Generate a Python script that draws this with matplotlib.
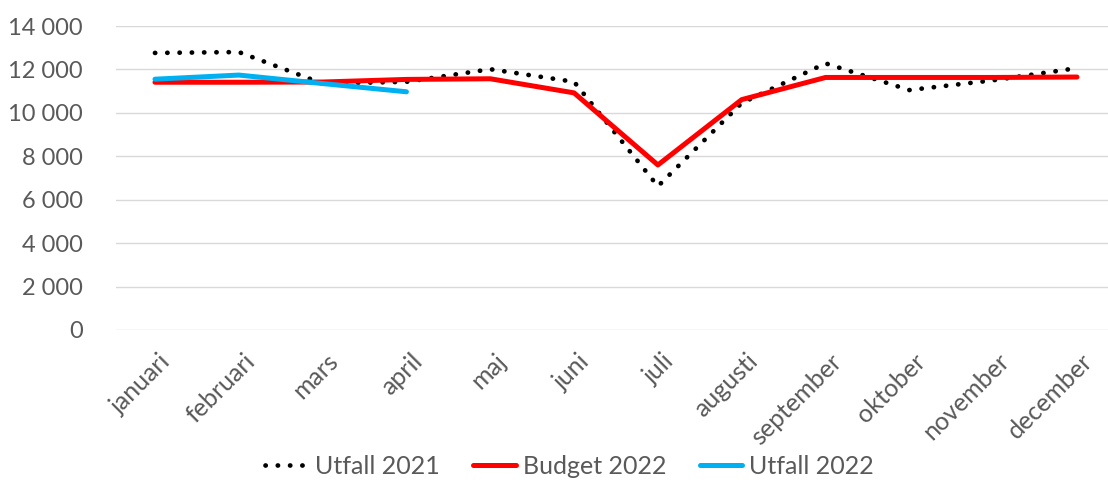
import matplotlib.pyplot as plt
from matplotlib.ticker import FuncFormatter
from matplotlib.transforms import ScaledTranslation

plt.rcParams['font.family'] = ['Lato', 'DejaVu Sans']

months = ["januari", "februari", "mars", "april", "maj", "juni", "juli",
          "augusti", "september", "oktober", "november", "december"]
utfall_2021 = [12760, 12800, 11350, 11430, 12010, 11430, 6620, 10450, 12280, 11050, 11500, 12060]
budget_2022 = [11410, 11410, 11420, 11540, 11570, 10920, 7600, 10610, 11630, 11630, 11630, 11650]
utfall_2022 = [11550, 11740, 11350, 10970]

grey = "#595959"

fig = plt.figure(figsize=(11.08, 4.86), dpi=100)
ax = fig.add_axes([0.1047, 0.321, 0.8953, 0.6255])

x = list(range(len(months)))
ax.plot(x, utfall_2021, color="black", lw=3.4, linestyle=(0, (0.05, 2.55)),
        dash_capstyle="round", label="Utfall 2021", zorder=3)
ax.plot(x, budget_2022, color="#FF0000", lw=3.6, solid_capstyle="round",
        label="Budget 2022", zorder=4)
ax.plot(x[:len(utfall_2022)], utfall_2022, color="#00B0F0", lw=3.6,
        solid_capstyle="round", label="Utfall 2022", zorder=5)

ax.set_ylim(0, 14000)
ax.set_xlim(-0.465, 11.37)
ax.set_yticks(range(0, 14001, 2000))
ax.yaxis.set_major_formatter(FuncFormatter(lambda v, p: f"{int(v):,}".replace(",", " ")))
ax.set_xticks(x)
ax.set_xticklabels(months, rotation=45, ha="right", va="top", rotation_mode="anchor")
ax.tick_params(axis="y", length=0, labelsize=17, colors=grey, pad=24)
ax.tick_params(axis="x", length=0, labelsize=18, colors=grey, pad=14)
off = ScaledTranslation(4 / 100, 0, fig.dpi_scale_trans)
for lab in ax.get_xticklabels():
    lab.set_transform(lab.get_transform() + off)
ax.grid(axis="y", color="#D9D9D9", lw=1)
ax.set_axisbelow(True)
for s in ax.spines.values():
    s.set_visible(False)

fig.legend(loc="lower center", bbox_to_anchor=(0.514, -0.03), ncol=3, frameon=False,
           fontsize=18, labelcolor=grey, handlelength=1.7, handletextpad=0.28,
           columnspacing=1.35)

plt.savefig("out.png")
